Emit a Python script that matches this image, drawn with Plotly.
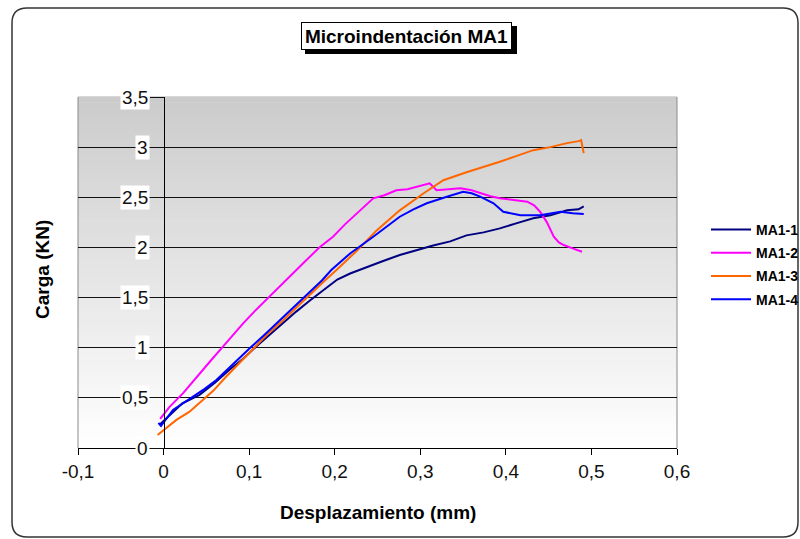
import plotly.graph_objects as go

# ---------------- data ----------------
x_ticks = [-0.1, 0.0, 0.1, 0.2, 0.3, 0.4, 0.5, 0.6]
x_tick_labels = ["-0,1", "0", "0,1", "0,2", "0,3", "0,4", "0,5", "0,6"]
y_ticks = [0.0, 0.5, 1.0, 1.5, 2.0, 2.5, 3.0, 3.5]
y_tick_labels = ["0", "0,5", "1", "1,5", "2", "2,5", "3", "3,5"]

series_names = ["MA1-1", "MA1-2", "MA1-3", "MA1-4"]

ma1_1_x = [-0.005, 0.0, 0.01, 0.022, 0.042, 0.06, 0.077, 0.093, 0.108, 0.124, 0.14, 0.155,
           0.171, 0.186, 0.203, 0.218, 0.233, 0.255, 0.276, 0.295, 0.315, 0.335, 0.354,
           0.374, 0.393, 0.412, 0.432, 0.452, 0.4715, 0.485, 0.491]
ma1_1_y = [0.23, 0.27, 0.36, 0.446, 0.53, 0.65, 0.78, 0.89, 1.01, 1.13, 1.243, 1.36,
           1.47, 1.57, 1.68, 1.74, 1.79, 1.86, 1.924, 1.97, 2.02, 2.06, 2.12,
           2.15, 2.19, 2.24, 2.29, 2.32, 2.37, 2.38, 2.41]

ma1_2_x = [-0.004, 0.007, 0.0226, 0.042, 0.055, 0.0676, 0.08, 0.093, 0.106, 0.12, 0.1436,
           0.155, 0.167, 0.182, 0.198, 0.212, 0.2256, 0.245, 0.258, 0.272, 0.285, 0.296,
           0.311, 0.319, 0.333, 0.347, 0.36, 0.37, 0.382, 0.393, 0.41, 0.425, 0.433, 0.44,
           0.448, 0.456, 0.462, 0.4676, 0.478, 0.489]
ma1_2_y = [0.29, 0.41, 0.545, 0.745, 0.87, 0.994, 1.12, 1.243, 1.36, 1.476, 1.675,
           1.77, 1.874, 2.0, 2.107, 2.23, 2.34, 2.49, 2.52, 2.57, 2.58, 2.605,
           2.64, 2.57, 2.58, 2.59, 2.57, 2.54, 2.51, 2.49, 2.47, 2.456, 2.42, 2.356,
           2.25, 2.107, 2.05, 2.024, 1.99, 1.957]

ma1_3_x = [-0.007, 0.0, 0.015, 0.03, 0.042, 0.058, 0.073, 0.089, 0.1046, 0.122, 0.14,
           0.155, 0.171, 0.186, 0.202, 0.225, 0.249, 0.276, 0.304, 0.327, 0.354, 0.374,
           0.393, 0.412, 0.432, 0.452, 0.4715, 0.485, 0.488, 0.491]
ma1_3_y = [0.13, 0.18, 0.28, 0.36, 0.446, 0.57, 0.71, 0.85, 0.994, 1.14, 1.276,
           1.40, 1.525, 1.65, 1.775, 1.96, 2.17, 2.37, 2.54, 2.67, 2.75, 2.80,
           2.855, 2.91, 2.97, 3.0, 3.04, 3.06, 3.07, 2.94]

ma1_4_x = [-0.006, -0.003, 0.011, 0.034, 0.048, 0.0617, 0.08, 0.1007, 0.118, 0.136, 0.153,
           0.171, 0.185, 0.196, 0.218, 0.245, 0.276, 0.292, 0.3076, 0.331, 0.35, 0.36,
           0.37, 0.3856, 0.397, 0.417, 0.44, 0.464, 0.478, 0.491]
ma1_4_y = [0.25, 0.22, 0.379, 0.511, 0.59, 0.678, 0.83, 0.994, 1.13, 1.276, 1.42,
           1.558, 1.67, 1.775, 1.94, 2.107, 2.306, 2.38, 2.44, 2.506, 2.555, 2.54,
           2.506, 2.44, 2.356, 2.32, 2.32, 2.356, 2.34, 2.333]

series_x = [ma1_1_x, ma1_2_x, ma1_3_x, ma1_4_x]
series_y = [ma1_1_y, ma1_2_y, ma1_3_y, ma1_4_y]
colors = ["#000080", "#FF00FF", "#FF6600", "#0000FF"]

# ---------------- layout geometry ----------------
W, H = 800, 539
L, R, T, B = 78, 677, 97, 448   # plot area pixel box


def px_x(p):
    return (p - L) / (R - L)


def px_y(p):
    return (B - p) / (B - T)


FONT = "Liberation Sans, Arial, sans-serif"

fig = go.Figure()
for name, xs, ys, c in zip(series_names, series_x, series_y, colors):
    fig.add_trace(go.Scatter(x=xs, y=ys, mode="lines", name=name, legendgroup=name,
                             line=dict(color=c, width=2)))
# carrier for the free-positioned axis through x = 0
fig.add_trace(go.Scatter(x=[], y=[], yaxis="y2", showlegend=False, hoverinfo="skip"))

shapes = []
# vertical gradient of the plot area
n = 60
for i in range(n):
    f0, f1 = i / n, (i + 1) / n
    g = int(round(255 - (255 - 203) * (f0 + f1) / 2))
    shapes.append(dict(type="rect", xref="paper", yref="paper", x0=0, x1=1, y0=f0, y1=f1 + 0.002,
                       fillcolor=f"rgb({g},{g},{g})", line=dict(width=0), layer="below"))
# plot-area side borders
for xv in (0, 1):
    shapes.append(dict(type="line", xref="paper", yref="paper", x0=xv, x1=xv, y0=0, y1=1,
                       line=dict(color="#8a8a8a", width=1), layer="below"))
# outer rounded frame
x0, x1 = px_x(12), px_x(798)
yt, yb = px_y(8), px_y(537)
rx, ry = 15 / (R - L), 15 / (B - T)
path = (f"M {x0+rx},{yt} L {x1-rx},{yt} Q {x1},{yt} {x1},{yt-ry} "
        f"L {x1},{yb+ry} Q {x1},{yb} {x1-rx},{yb} L {x0+rx},{yb} Q {x0},{yb} {x0},{yb+ry} "
        f"L {x0},{yt-ry} Q {x0},{yt} {x0+rx},{yt} Z")
shapes.append(dict(type="path", xref="paper", yref="paper", path=path,
                   line=dict(color="#333333", width=1.5), fillcolor="rgba(0,0,0,0)"))
# title box drop shadow
shapes.append(dict(type="rect", xref="paper", yref="paper",
                   x0=px_x(305), x1=px_x(517), y0=px_y(54), y1=px_y(26),
                   fillcolor="black", line=dict(width=0), layer="above"))

annotations = []
# y tick labels with white boxes
for v, lab in zip(y_ticks, y_tick_labels):
    annotations.append(dict(x=px_x(150), xref="paper", y=v, yref="y", text=lab,
                            showarrow=False, xanchor="right", yanchor="middle",
                            bgcolor="white", borderpad=1,
                            font=dict(family=FONT, size=19, color="#111111")))
# title
annotations.append(dict(x=px_x(406.5), xref="paper", y=px_y(36), yref="paper",
                        text="<b>Microindentación MA1</b>", showarrow=False,
                        xanchor="center", yanchor="middle",
                        width=205, height=22, align="center", valign="middle",
                        bgcolor="white", bordercolor="black", borderwidth=1, borderpad=2,
                        font=dict(family=FONT, size=19, color="black")))
# axis titles
annotations.append(dict(x=px_x(378), xref="paper", y=px_y(512), yref="paper",
                        text="<b>Desplazamiento (mm)</b>", showarrow=False,
                        xanchor="center", yanchor="middle",
                        font=dict(family=FONT, size=19, color="black")))
annotations.append(dict(x=px_x(42), xref="paper", y=px_y(270), yref="paper",
                        text="<b>Carga (KN)</b>", showarrow=False, textangle=-90,
                        xanchor="center", yanchor="middle",
                        font=dict(family=FONT, size=19, color="black")))

fig.update_layout(
    width=W, height=H,
    margin=dict(l=L, r=W - R, t=T, b=H - B, pad=0, autoexpand=False),
    paper_bgcolor="white",
    plot_bgcolor="rgba(0,0,0,0)",
    font=dict(family=FONT, size=19, color="black"),
    showlegend=True,
    legend=dict(x=px_x(706), y=px_y(214), xanchor="left", yanchor="top",
                xref="paper", yref="paper",
                font=dict(family=FONT, size=14, color="black", weight="bold"),
                bgcolor="rgba(0,0,0,0)", traceorder="grouped", tracegroupgap=2,
                itemwidth=40),
    xaxis=dict(range=[-0.1, 0.6], tickvals=x_ticks, ticktext=x_tick_labels,
               showgrid=False, zeroline=False, showline=True, linecolor="black",
               linewidth=1, ticks="outside", ticklen=6, tickcolor="black",
               tickfont=dict(family=FONT, size=19, color="#111111"),
               fixedrange=True, automargin=False),
    yaxis=dict(range=[0, 3.5], tickvals=y_ticks[1:-1], showticklabels=False,
               showgrid=True, gridcolor="#111111", gridwidth=1.2,
               zeroline=False, showline=False, ticks="", fixedrange=True,
               automargin=False),
    yaxis2=dict(range=[0, 3.5], overlaying="y", anchor="free",
                position=(164 - L) / (R - L), side="left",
                tickvals=y_ticks, showticklabels=False, showgrid=False,
                zeroline=False, showline=True, linecolor="black", linewidth=1,
                ticks="outside", ticklen=14, tickcolor="#111111", fixedrange=True,
                automargin=False),
    shapes=shapes,
    annotations=annotations,
)

fig.write_html("out.html", config={"displayModeBar": False},
               post_script="document.body.style.margin='0';document.body.style.overflow='hidden';")
